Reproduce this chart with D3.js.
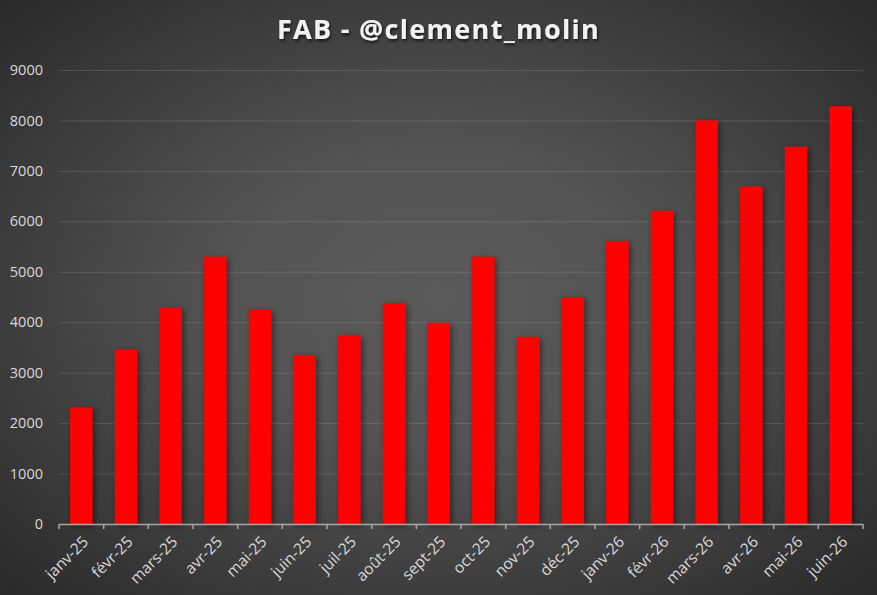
<!DOCTYPE html>
<html>
<head>
<meta charset="utf-8">
<script src="https://cdn.jsdelivr.net/npm/d3@7"></script>
<style>
  html, body { margin: 0; padding: 0; background: #333; }
  svg { display: block; }
</style>
</head>
<body>
<div id="visContainer"></div>
<script>
// data
const months = ["janv-25", "févr-25", "mars-25", "avr-25", "mai-25", "juin-25", "juil-25", "août-25", "sept-25",
  "oct-25", "nov-25", "déc-25", "janv-26", "févr-26", "mars-26", "avr-26", "mai-26", "juin-26"];
const values = [2310, 3460, 4290, 5300, 4250, 3350, 3740, 4380, 3990,
  5300, 3710, 4500, 5610, 6210, 8000, 6690, 7480, 8280];
const yTicks = [0, 1000, 2000, 3000, 4000, 5000, 6000, 7000, 8000, 9000];
const title = "FAB - @clement_molin";

function makeVis() {
  const width = 877;
  const height = 595;
  const margins = { left: 59, right: 14, top: 70, bottom: 71 };

  const svg = d3.create("svg")
    .attr("width", width)
    .attr("height", height);
  document.querySelector("#visContainer").append(svg.node());

  const defs = svg.append("defs");
  const bg = defs.append("radialGradient").attr("id", "bg")
    .attr("cx", "50%").attr("cy", "50%").attr("r", "72%");
  bg.append("stop").attr("offset", "0%").attr("stop-color", "#5a5a5a");
  bg.append("stop").attr("offset", "35%").attr("stop-color", "#535353");
  bg.append("stop").attr("offset", "100%").attr("stop-color", "#282828");

  const shadow = defs.append("filter").attr("id", "shadow")
    .attr("x", "-30%").attr("y", "-10%").attr("width", "180%").attr("height", "130%");
  shadow.append("feDropShadow").attr("dx", 2).attr("dy", 2)
    .attr("stdDeviation", 3).attr("flood-color", "#000").attr("flood-opacity", 0.5);

  const tshadow = defs.append("filter").attr("id", "tshadow");
  tshadow.append("feDropShadow").attr("dx", 1).attr("dy", 2)
    .attr("stdDeviation", 1.5).attr("flood-color", "#000").attr("flood-opacity", 0.7);

  svg.append("rect").attr("width", width).attr("height", height).attr("fill", "url(#bg)");

  svg.append("text")
    .attr("x", width / 2).attr("y", 39)
    .attr("text-anchor", "middle")
    .attr("font-family", "Open Sans")
    .attr("font-weight", "bold")
    .attr("font-size", 27)
    .attr("letter-spacing", 1.3)
    .attr("fill", "#f2f2f2")
    .attr("filter", "url(#tshadow)")
    .text(title);

  const xScale = d3.scaleBand().domain(months)
    .range([margins.left, width - margins.right]).paddingInner(0.5).paddingOuter(0.25);
  const yScale = d3.scaleLinear().domain([0, 9000])
    .range([height - margins.bottom, margins.top]);

  // grid
  svg.append("g").selectAll("line")
    .data(yTicks.filter(d => d > 0))
    .join("line")
    .attr("x1", margins.left).attr("x2", width - margins.right)
    .attr("y1", d => yScale(d) + 0.5).attr("y2", d => yScale(d) + 0.5)
    .attr("stroke", "#ffffff").attr("stroke-opacity", 0.13).attr("stroke-width", 1);

  // y labels
  const yAxis = svg.append("g")
    .attr("transform", `translate(${margins.left},0)`)
    .call(d3.axisLeft(yScale).tickValues(yTicks).tickSize(0).tickPadding(16).tickFormat(d3.format("d")));
  yAxis.select(".domain").remove();
  yAxis.selectAll("text")
    .attr("font-family", "Open Sans").attr("font-size", 14.5).attr("fill", "#d9d9d9");

  // bars
  svg.append("g").selectAll("rect")
    .data(values)
    .join("rect")
    .attr("x", (d, i) => xScale(months[i]))
    .attr("y", d => yScale(d))
    .attr("width", xScale.bandwidth())
    .attr("height", d => yScale(0) - yScale(d))
    .attr("fill", "#ff0000")
    .attr("filter", "url(#shadow)");

  // x axis with ticks between categories
  const tickPos = d3.range(months.length + 1).map(i => margins.left + i * (width - margins.left - margins.right) / months.length);
  const xg = svg.append("g");
  xg.append("line")
    .attr("x1", margins.left).attr("x2", width - margins.right)
    .attr("y1", yScale(0) + 0.5).attr("y2", yScale(0) + 0.5)
    .attr("stroke", "#a6a6a6").attr("stroke-width", 1.5);
  xg.selectAll("line.tick")
    .data(tickPos)
    .join("line").attr("class", "tick")
    .attr("x1", d => d).attr("x2", d => d)
    .attr("y1", yScale(0)).attr("y2", yScale(0) + 5)
    .attr("stroke", "#a6a6a6").attr("stroke-width", 1.5);

  xg.selectAll("text")
    .data(months)
    .join("text")
    .attr("transform", d => `translate(${xScale(d) + xScale.bandwidth() / 2 + 4},${yScale(0) + 15}) rotate(-45)`)
    .attr("text-anchor", "end")
    .attr("dy", "0.35em")
    .attr("font-family", "Open Sans").attr("font-size", 15.5).attr("fill", "#d9d9d9")
    .text(d => d);
}

makeVis();
</script>
</body>
</html>
